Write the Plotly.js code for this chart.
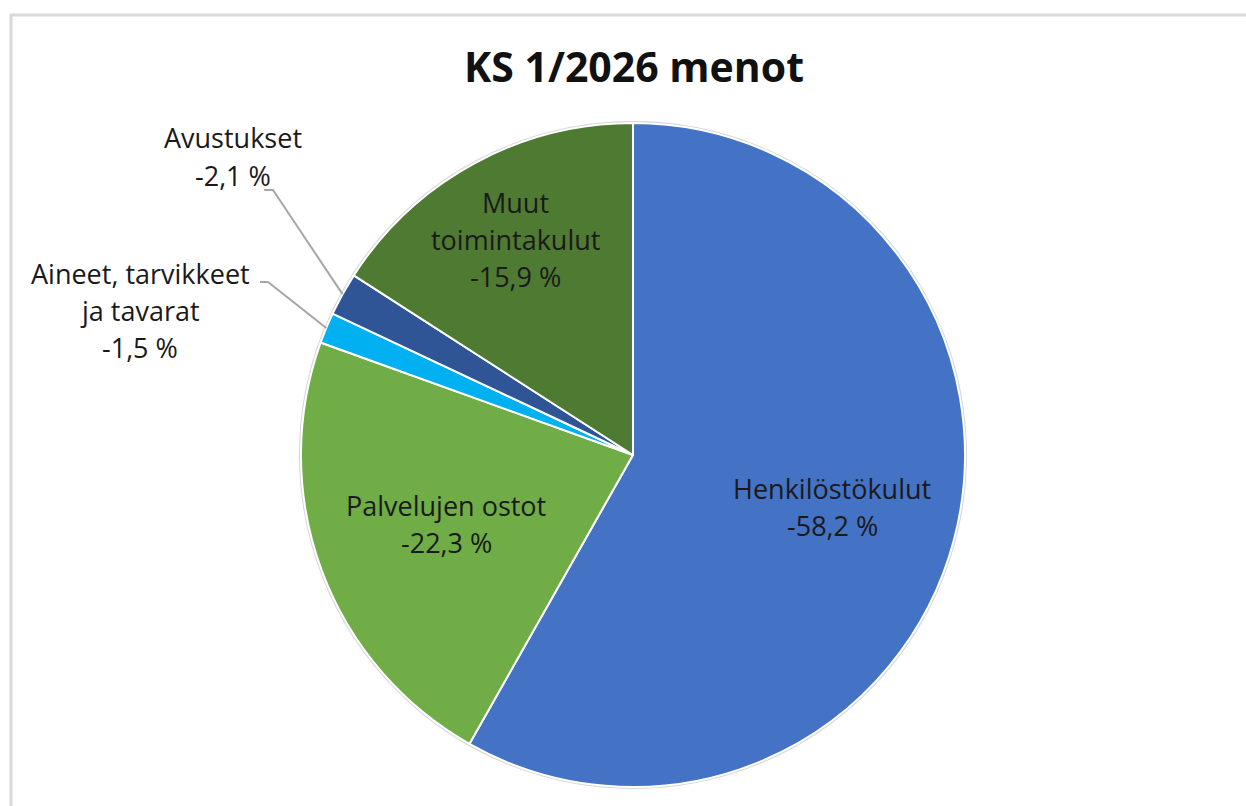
<!DOCTYPE html>
<html>
<head>
<meta charset="utf-8">
<script src="https://cdn.plot.ly/plotly-3.0.1.min.js"></script>
<style>
  html, body { margin: 0; padding: 0; background: #ffffff; }
  #chart { width: 1246px; height: 806px; }
</style>
</head>
<body>
<div id="chart"></div>
<script>
// ---- data ----
const categories = ['Henkilöstökulut', 'Palvelujen ostot', 'Aineet, tarvikkeet ja tavarat', 'Avustukset', 'Muut toimintakulut'];
const values = [58.2, 22.3, 1.5, 2.1, 15.9];
const labelLines = [
  ['Henkilöstökulut'],
  ['Palvelujen ostot'],
  ['Aineet, tarvikkeet', 'ja tavarat'],
  ['Avustukset'],
  ['Muut', 'toimintakulut']
];
const colors = ['#4472C4', '#70AD47', '#00B0F0', '#2F5597', '#4E7A31'];
const titleText = 'KS 1/2026 menot';

// ---- layout geometry ----
const W = 1246, H = 806;
const M = { l: 0, r: 0, t: 123, b: 19 };
const domX = [0.016, 1];
const plotW = W - M.l - M.r, plotH = H - M.t - M.b;
const cx = M.l + plotW * (domX[0] + domX[1]) / 2;
const cy = M.t + plotH / 2;
const R = Math.min(plotW * (domX[1] - domX[0]), plotH) / 2;
const px2x = px => (px - M.l) / plotW;
const py2y = py => (H - M.b - py) / plotH;

// label placement: inside labels at radius fraction, outside labels with leader lines
const labelPlace = [
  { inside: true, f: 0.62 },
  { inside: true, f: 0.60 },
  { inside: false, x: 140, y: 273, elbow: [268, 282], end: [260, 282] },
  { inside: false, x: 233, y: 138, elbow: [273, 190], end: [264, 190] },
  { inside: true, f: 0.74 }
];
const LINE_H = 37;
const FONT = 'Open Sans, Noto Sans, sans-serif';
const fmt = v => '-' + v.toFixed(1).replace('.', ',') + ' %';

const total = values.reduce((a, b) => a + b, 0);
const annotations = [];
const shapes = [];

// faint outer rim of the pie
shapes.push({ type: 'circle', xref: 'paper', yref: 'paper', layer: 'below',
  x0: px2x(cx - R - 1), x1: px2x(cx + R + 1), y0: py2y(cy + R + 1), y1: py2y(cy - R - 1),
  line: { color: '#D6D6D6', width: 2 } });

let cum = 0;
values.forEach((v, i) => {
  const mid = (cum + v / 2) / total * 2 * Math.PI; // clockwise from top
  cum += v;
  const lines = labelLines[i].concat([fmt(v)]);
  const p = labelPlace[i];
  let lx, ly;
  if (p.inside) {
    lx = cx + R * p.f * Math.sin(mid);
    ly = cy - R * p.f * Math.cos(mid);
    ly = ly - (lines.length - 1) * LINE_H / 2;
  } else {
    lx = p.x; ly = p.y;
    const ex = cx + R * Math.sin(mid), ey = cy - R * Math.cos(mid);
    shapes.push({
      type: 'path', xref: 'paper', yref: 'paper',
      path: 'M ' + px2x(ex) + ',' + py2y(ey) + ' L ' + px2x(p.elbow[0]) + ',' + py2y(p.elbow[1]) +
            ' L ' + px2x(p.end[0]) + ',' + py2y(p.end[1]),
      line: { color: '#A6A6A6', width: 2 }
    });
  }
  lines.forEach((t, k) => {
    annotations.push({
      xref: 'paper', yref: 'paper',
      x: px2x(lx), y: py2y(ly + k * LINE_H),
      xanchor: 'center', yanchor: 'middle',
      text: t, showarrow: false,
      font: { family: FONT, size: 27, color: '#1A1A1A' }
    });
  });
});

// chart frame (left and top border)
shapes.push({ type: 'line', xref: 'paper', yref: 'paper',
  x0: px2x(11), x1: px2x(11), y0: py2y(14), y1: py2y(H + 5),
  line: { color: '#D9D9D9', width: 3 } });
shapes.push({ type: 'line', xref: 'paper', yref: 'paper',
  x0: px2x(10), x1: px2x(W + 5), y0: py2y(15), y1: py2y(15),
  line: { color: '#D9D9D9', width: 3 } });

const trace = {
  type: 'pie',
  labels: categories,
  values: values,
  sort: false,
  direction: 'clockwise',
  rotation: 0,
  marker: { colors: colors, line: { color: '#FFFFFF', width: 2 } },
  textinfo: 'none',
  hovertemplate: '%{label}: -%{value} %<extra></extra>',
  domain: { x: domX, y: [0, 1] },
  showlegend: false
};

const layout = {
  width: W, height: H,
  margin: M,
  paper_bgcolor: '#FFFFFF',
  title: {
    text: '<b>' + titleText + '</b>',
    font: { family: FONT, size: 41, color: '#111111' },
    x: px2x(634), xanchor: 'center',
    y: 1 - 68 / H, yanchor: 'middle', xref: 'paper', yref: 'container'
  },
  annotations: annotations,
  shapes: shapes,
  showlegend: false
};

Plotly.newPlot('chart', [trace], layout, { displayModeBar: false, staticPlot: false });
</script>
</body>
</html>
